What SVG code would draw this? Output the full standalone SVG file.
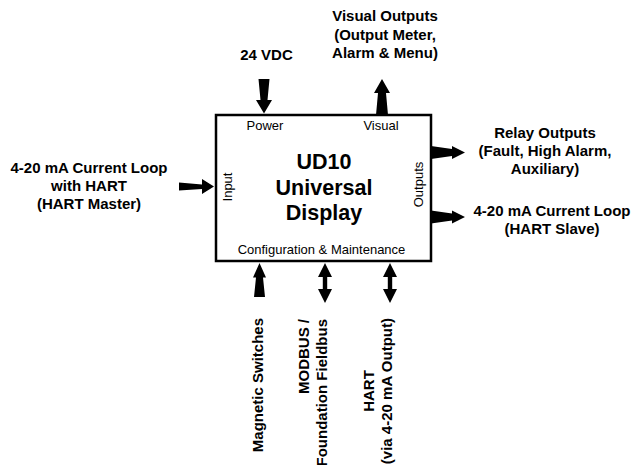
<svg xmlns="http://www.w3.org/2000/svg" width="636" height="465" viewBox="0 0 636 465">
<style>
.b{font-family:"Liberation Sans",Arial,sans-serif;font-weight:bold;font-size:15px;fill:#000}
.r{font-family:"Liberation Sans",Arial,sans-serif;font-size:13px;fill:#000}
.t{font-family:"Liberation Sans",Arial,sans-serif;font-weight:bold;font-size:21.5px;fill:#000}
.a{fill:#000;stroke:none}
</style>
<rect width="636" height="465" fill="#fff"/>
<g id="ud10">
<rect x="216" y="115" width="215" height="146" fill="#fff" stroke="#000" stroke-width="2.5"/>
<text class="t" x="324" y="169" text-anchor="middle">UD10</text>
<text class="t" x="324" y="195" text-anchor="middle">Universal</text>
<text class="t" x="324" y="220" text-anchor="middle">Display</text>
<text class="r" x="265" y="130" text-anchor="middle">Power</text>
<text class="r" x="381" y="130" text-anchor="middle">Visual</text>
<text class="r" x="321.5" y="254" text-anchor="middle">Configuration &amp; Maintenance</text>
<text class="r" transform="translate(232,187) rotate(-90)" text-anchor="middle">Input</text>
<text class="r" transform="translate(423,184.5) rotate(-90)" text-anchor="middle">Outputs</text>
</g>
<g id="power">
<text class="b" x="266.5" y="60" text-anchor="middle">24 VDC</text>
</g>
<g id="visual-outputs">
<text class="b" x="385" y="21" text-anchor="middle">Visual Outputs</text>
<text class="b" x="385" y="39.5" text-anchor="middle">(Output Meter,</text>
<text class="b" x="385" y="58" text-anchor="middle">Alarm &amp; Menu)</text>
</g>
<g id="input">
<text class="b" x="89" y="173" text-anchor="middle">4-20 mA Current Loop</text>
<text class="b" x="89" y="191" text-anchor="middle">with HART</text>
<text class="b" x="89" y="209" text-anchor="middle">(HART Master)</text>
</g>
<g id="relay-outputs">
<text class="b" x="545" y="138" text-anchor="middle">Relay Outputs</text>
<text class="b" x="545" y="156" text-anchor="middle">(Fault, High Alarm,</text>
<text class="b" x="545" y="174" text-anchor="middle">Auxiliary)</text>
</g>
<g id="current-loop-out">
<text class="b" x="552" y="216" text-anchor="middle">4-20 mA Current Loop</text>
<text class="b" x="552" y="234" text-anchor="middle">(HART Slave)</text>
</g>
<g id="magnetic-switches">
<text class="b" transform="translate(263,318) rotate(-90)" text-anchor="end">Magnetic Switches</text>
</g>
<g id="modbus">
<text class="b" transform="translate(309,319) rotate(-90)" text-anchor="end">MODBUS /</text>
<text class="b" transform="translate(327,319) rotate(-90)" text-anchor="end">Foundation Fieldbus</text>
</g>
<g id="hart">
<text class="b" transform="translate(374,391) rotate(-90)" text-anchor="middle">HART</text>
<text class="b" transform="translate(392,318) rotate(-90)" text-anchor="end">(via 4-20 mA Output)</text>
</g>
<g id="connectors">
<polygon class="a" points="258.5,79 269.5,79 267.5,100 272,100 264,113.5 256,100 260.5,100"/>
<polygon class="a" points="382,79 390,93 386,93 388,115 376,115 378,93 374,93"/>
<polygon class="a" points="179,182.5 202,184.5 202,179 214,186.5 202,194 202,189 179,190.5"/>
<polygon class="a" points="431,146 452,149 452,146 465,152.5 452,159 452,156 431,159"/>
<polygon class="a" points="431,210.5 452,213.5 452,210.5 465,217 452,223.5 452,220.5 431,223.5"/>
<polygon class="a" points="259.5,263 266,277.5 263,277.5 265,297 254,297 256,277.5 253,277.5"/>
<polygon class="a" points="325,263 332,277 327.2,277 327.2,289 332,289 325,303 318,289 322.8,289 322.8,277 318,277"/>
<polygon class="a" points="390,263 397,277 392.2,277 392.2,289 397,289 390,303 383,289 387.8,289 387.8,277 383,277"/>
</g>
</svg>
